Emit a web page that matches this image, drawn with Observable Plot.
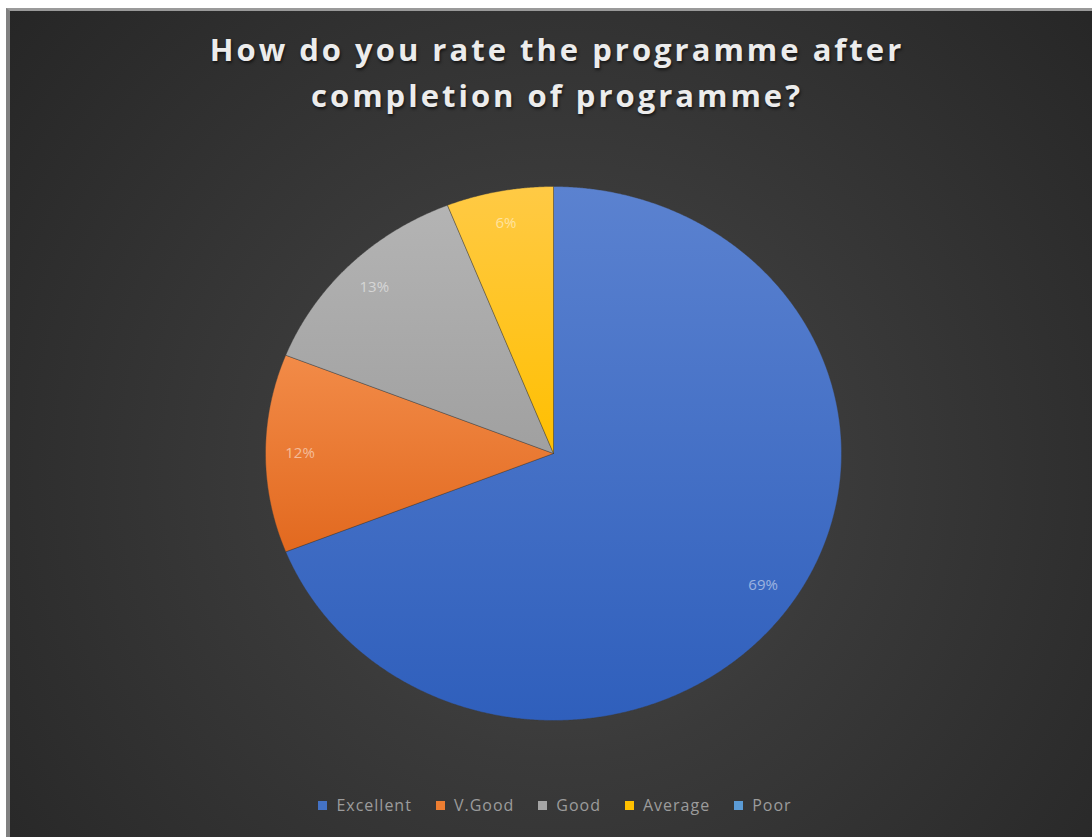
<!DOCTYPE html>
<html><head><meta charset="utf-8">
<script src="https://cdn.jsdelivr.net/npm/d3@7"></script>
<script src="https://cdn.jsdelivr.net/npm/@observablehq/plot@0.6"></script>
<style>
html,body{margin:0;padding:0;background:#fff;}
#wrap{position:relative;width:1092px;height:837px;overflow:hidden;}
#frame{position:absolute;left:6px;top:8px;width:1100px;height:840px;border-left:4px solid #808080;border-top:3px solid #9a9a9a;
  background:radial-gradient(circle farthest-corner at 50% 55%, #4c4c4c 0%, #3a3a3a 40%, #262626 100%);}
#title{position:absolute;left:0;width:1114px;top:26px;text-align:center;color:#ececec;font:700 31px "Open Sans",sans-serif;letter-spacing:3px;line-height:46px;text-shadow:1px 2px 3px rgba(0,0,0,0.6);}
#plot{position:absolute;left:0;top:0;}
#legend{position:absolute;top:794px;left:0;width:1110px;display:flex;justify-content:center;gap:24px;font:16px "Open Sans",sans-serif;letter-spacing:1px;color:#9c9c9c;}
#legend .it{display:flex;align-items:center;gap:9px;}
#legend .sw{width:9px;height:9px;display:inline-block;}
</style></head>
<body>
<div id="wrap">
  <div id="frame"></div>
  <div id="title">How do you rate the programme after<br>completion of programme?</div>
  <div id="plot"></div>
  <div id="legend"></div>
</div>
<script>
const categories = ["Excellent", "V.Good", "Good", "Average", "Poor"];
const values = [69, 12, 13, 6, 0];
const labels = ["69%", "12%", "13%", "6%", ""];
const colors = ["#4472c4", "#ed7d31", "#a5a5a5", "#ffc000", "#5b9bd5"];
const gradTop = ["#5b82d0", "#f28b48", "#b4b4b4", "#ffca45", "#6aa6dc"];
const gradBottom = ["#2f5fbc", "#e2691f", "#a0a0a0", "#ffbf00", "#4a8cc8"];

const total = d3.sum(values);
const pts = [];
const labelData = [];
let acc = 0;
categories.forEach((c, i) => {
  const v = values[i];
  if (!v) return;
  const a0 = acc / total * 2 * Math.PI;
  const a1 = (acc + v) / total * 2 * Math.PI;
  acc += v;
  pts.push({cat: c, x: 0, y: 0});
  const n = Math.max(2, Math.ceil((a1 - a0) / 0.005));
  for (let k = 0; k <= n; k++) {
    const a = a0 + (a1 - a0) * k / n;
    pts.push({cat: c, x: Math.sin(a), y: Math.cos(a)});
  }
  pts.push({cat: c, x: 0, y: 0});
  const am = (a0 + a1) / 2;
  labelData.push({cat: c, x: 0.88 * Math.sin(am), y: 0.88 * Math.cos(am), text: labels[i]});
});

const sliceCats = categories.filter((c, i) => values[i] > 0);

const svg = Plot.plot({
  width: 1092, height: 837, margin: 0,
  style: {background: "transparent", overflow: "visible"},
  x: {domain: [-1, 1], range: [265, 841], axis: null},
  y: {domain: [-1, 1], range: [720, 186], axis: null},
  marks: [
    ...sliceCats.map(c => {
      const i = categories.indexOf(c);
      return Plot.line(pts.filter(d => d.cat === c), {x: "x", y: "y", fill: `url(#g${i})`, stroke: "#3a3a3a", strokeWidth: 0.8, strokeOpacity: 0.5, curve: "linear"});
    }),
    Plot.text(labelData, {x: "x", y: "y", text: "text", fill: "white", fillOpacity: 0.5, fontSize: 15, fontFamily: "Open Sans"})
  ]
});

const defs = d3.select(svg).insert("defs", ":first-child");
categories.forEach((c, i) => {
  const g = defs.append("linearGradient").attr("id", `g${i}`).attr("x1", 0).attr("y1", 0).attr("x2", 0).attr("y2", 1);
  g.append("stop").attr("offset", "0%").attr("stop-color", gradTop[i]);
  g.append("stop").attr("offset", "100%").attr("stop-color", gradBottom[i]);
});
document.getElementById("plot").appendChild(svg);

const legend = d3.select("#legend");
categories.forEach((c, i) => {
  const it = legend.append("div").attr("class", "it");
  it.append("span").attr("class", "sw").style("background", colors[i]);
  it.append("span").text(c);
});
</script>
</body></html>
